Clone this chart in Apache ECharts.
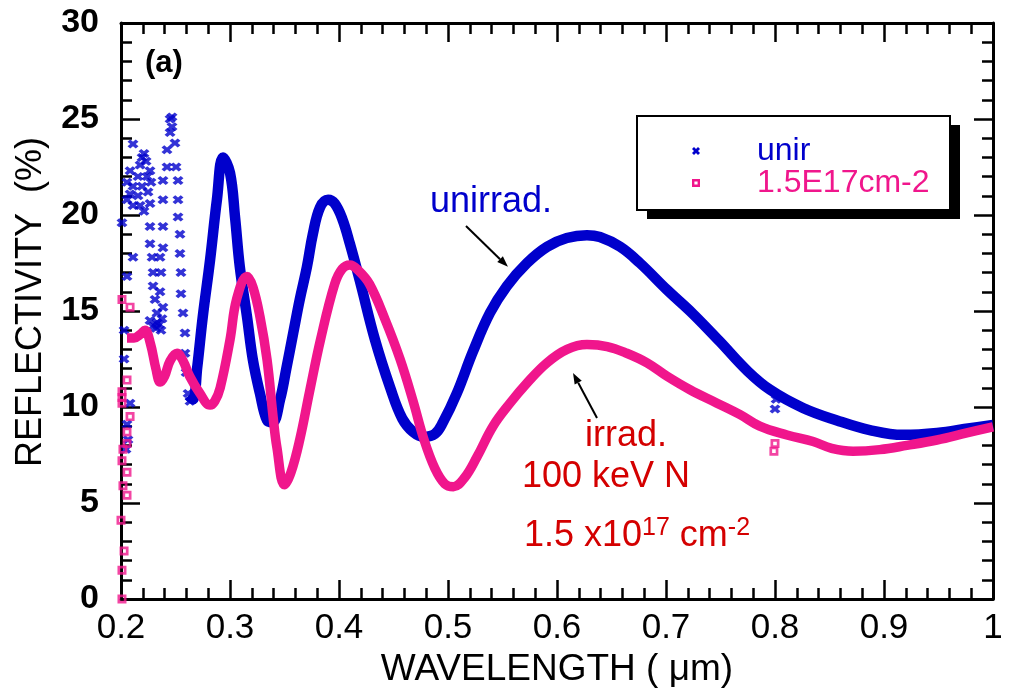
<!DOCTYPE html>
<html>
<head>
<meta charset="utf-8">
<script src="https://cdn.jsdelivr.net/npm/echarts@6/dist/echarts.min.js"></script>
<style>
  html, body { margin: 0; padding: 0; background: #fff; }
  #chart { width: 1009px; height: 699px; }
</style>
</head>
<body>
<div id="chart"></div>
<script>
// Axis ticks
const xTickValues = [0.2, 0.3, 0.4, 0.5, 0.6, 0.7, 0.8, 0.9, 1];
const yTickValues = [0, 5, 10, 15, 20, 25, 30];

// Unirradiated sample: sparse markers in the short-wavelength oscillation region [wavelength um, reflectivity %]
const unirScatterPts = [
  [0.211, 23.7], [0.2083, 22.3], [0.2055, 21.7], [0.2055, 20.8], [0.211, 21.5], [0.211, 20.5],
  [0.2083, 21.1], [0.2009, 19.6], [0.211, 17.8], [0.2055, 16.8], [0.2028, 14.0], [0.2028, 12.5],
  [0.2083, 10.2], [0.2055, 9.1], [0.2064, 8.3], [0.2046, 7.8],
  [0.2156, 21.0], [0.2156, 22.0], [0.2175, 22.6], [0.2193, 23.0], [0.2211, 23.2], [0.223, 22.8],
  [0.2239, 22.0], [0.2248, 21.2], [0.2193, 21.5], [0.2175, 20.5], [0.2211, 20.2], [0.2266, 20.6],
  [0.2266, 22.3], [0.2275, 21.7],
  [0.2266, 19.4], [0.2266, 18.5], [0.2285, 17.8], [0.2294, 17.0], [0.2294, 16.3], [0.2312, 15.6],
  [0.233, 14.9], [0.233, 14.4],
  [0.2266, 14.5], [0.2294, 14.2], [0.2321, 14.1], [0.2349, 14.3], [0.2376, 14.6], [0.2385, 15.2], [0.2367, 14.0],
  [0.2358, 16.0], [0.2367, 17.0], [0.2358, 17.8], [0.2385, 18.3], [0.2385, 19.4], [0.2385, 20.8],
  [0.2385, 21.8], [0.2422, 22.5], [0.2422, 23.4], [0.245, 24.3], [0.2468, 25.1], [0.2468, 24.6], [0.245, 25.0],
  [0.2495, 23.75], [0.2505, 22.5], [0.2523, 21.8], [0.2523, 20.8], [0.2523, 19.9], [0.2541, 19.0],
  [0.2541, 18.0], [0.255, 17.0], [0.255, 15.9], [0.2569, 14.9], [0.2587, 13.85], [0.2587, 12.8],
  [0.2597, 11.8], [0.2615, 10.7], [0.2633, 10.3]
];
const unirOutliers = [[0.8, 9.9], [0.801, 10.4]];

// Unirradiated sample: dense part of the spectrum
const unirCurve = [
  [0.262, 10.6], [0.266, 10.4], [0.270, 12.1], [0.275, 14.7], [0.2817, 17.65], [0.288, 20.8],
  [0.2936, 23.0], [0.300, 22.2], [0.3046, 19.9], [0.309, 17.3], [0.3156, 14.7], [0.321, 12.45],
  [0.3275, 10.7], [0.334, 9.3], [0.339, 9.2], [0.346, 10.4], [0.352, 12.1], [0.358, 13.85],
  [0.364, 15.6], [0.3706, 17.3], [0.376, 19.0], [0.3826, 20.4], [0.390, 20.8], [0.396, 20.6],
  [0.403, 19.8], [0.41, 18.5], [0.419, 16.6], [0.433, 13.5], [0.447, 11.0], [0.458, 9.4],
  [0.468, 8.7], [0.478, 8.45], [0.488, 8.6], [0.4954, 9.2], [0.508, 10.7], [0.523, 12.9],
  [0.5385, 14.9], [0.554, 16.3], [0.5725, 17.5], [0.591, 18.35], [0.609, 18.8], [0.6275, 18.95],
  [0.6394, 18.85], [0.6578, 18.35], [0.676, 17.5], [0.701, 16.1], [0.7248, 14.85], [0.7495, 13.4],
  [0.7743, 11.9], [0.7954, 10.9], [0.8257, 9.95], [0.8569, 9.3], [0.887, 8.8], [0.9174, 8.55],
  [0.9486, 8.65], [0.9789, 8.9], [1.0, 9.06]
];

// Irradiated sample (1.5E17 cm-2): markers at the short-wavelength edge
const irrEdgePts = [
  [0.2009, 15.6], [0.2083, 15.2], [0.2055, 11.4], [0.2009, 10.8], [0.2009, 10.5], [0.2009, 10.2],
  [0.2083, 9.5], [0.2055, 8.7], [0.2055, 8.1], [0.2018, 7.8], [0.2009, 7.2], [0.2055, 6.6],
  [0.2018, 5.9], [0.2055, 5.4], [0.2, 4.1], [0.2028, 2.5], [0.2009, 1.5], [0.2009, 0.0]
];
const irrOutliers = [[0.799, 7.7], [0.8, 8.1]];

// Irradiated sample: dense part of the spectrum
const irrCurve = [
  [0.2055, 13.6], [0.212, 13.6], [0.218, 13.8], [0.222, 14.0], [0.227, 13.3], [0.232, 12.0],
  [0.236, 11.3], [0.240, 11.6], [0.245, 12.4], [0.2514, 12.8], [0.257, 12.4], [0.263, 11.6],
  [0.2725, 10.7], [0.2817, 10.1], [0.286, 10.3], [0.291, 11.0], [0.300, 13.5], [0.306, 15.6],
  [0.3156, 16.8], [0.321, 16.25], [0.3275, 14.7], [0.334, 12.45], [0.3395, 9.5], [0.343, 7.9],
  [0.350, 5.95], [0.356, 6.6], [0.364, 8.3], [0.373, 10.8], [0.383, 13.5], [0.396, 16.4],
  [0.403, 17.2], [0.410, 17.4], [0.418, 17.1], [0.428, 16.4], [0.442, 14.6], [0.456, 12.5],
  [0.468, 10.3], [0.478, 8.3], [0.488, 6.8], [0.497, 6.0], [0.505, 5.85], [0.515, 6.3],
  [0.5266, 7.4], [0.5413, 9.0], [0.5569, 10.2], [0.5725, 11.25], [0.5908, 12.3], [0.6092, 13.0],
  [0.6275, 13.25], [0.646, 13.15], [0.664, 12.8], [0.6826, 12.3], [0.701, 11.6], [0.722, 10.9],
  [0.7468, 10.2], [0.768, 9.6], [0.786, 9.0], [0.811, 8.54], [0.835, 8.2], [0.852, 7.85],
  [0.8716, 7.7], [0.896, 7.78], [0.921, 8.0], [0.9486, 8.28], [0.976, 8.65], [1.0, 8.96]
];

const FONT = '"Liberation Sans", Arial, Helvetica, sans-serif';
const BLUE = '#0000cc';
const PINK = '#f0168c';
const RED = '#d40000';
const CROSS = 'path://M0,2.5L2.5,0L5,2.5L7.5,0L10,2.5L7.5,5L10,7.5L7.5,10L5,7.5L2.5,10L0,7.5L2.5,5Z';
const SQUARE = 'path://M0,0H10V10H0ZM3,3V7H7V3Z';

const tickStyle = { color: '#000', width: 2.5 };

function makeXAxis(position, labels) {
  return {
    type: 'value', position: position,
    min: xTickValues[0], max: xTickValues[xTickValues.length - 1], interval: 0.1,
    axisLine: { show: true, onZero: false, lineStyle: { color: '#000', width: 3 } },
    axisTick: { show: true, inside: true, length: 19, lineStyle: tickStyle },
    minorTick: { show: true, splitNumber: 5, length: 11, lineStyle: tickStyle },
    splitLine: { show: false }, minorSplitLine: { show: false },
    axisLabel: labels ? {
      show: true, margin: 12, color: '#000', fontSize: 35, fontFamily: FONT,
      formatter: v => String(+v.toFixed(1))
    } : { show: false }
  };
}
function makeYAxis(position, labels) {
  return {
    type: 'value', position: position,
    min: yTickValues[0], max: yTickValues[yTickValues.length - 1], interval: 5,
    axisLine: { show: true, onZero: false, lineStyle: { color: '#000', width: 3 } },
    axisTick: { show: true, inside: true, length: 19, lineStyle: tickStyle },
    minorTick: { show: true, splitNumber: 5, length: 11, lineStyle: tickStyle },
    splitLine: { show: false }, minorSplitLine: { show: false },
    axisLabel: labels ? {
      show: true, margin: 22, color: '#000', fontSize: 34, fontWeight: 'bold', fontFamily: FONT
    } : { show: false }
  };
}

const xMain = makeXAxis('bottom', true);
xMain.name = 'WAVELENGTH ( \u03bcm)';
xMain.nameLocation = 'middle';
xMain.nameGap = 52;
xMain.nameTextStyle = { fontSize: 37, color: '#000', fontFamily: FONT };

const yMain = makeYAxis('left', true);
yMain.name = 'REFLECTIVITY  (%)';
yMain.nameLocation = 'middle';
yMain.nameGap = 72;
yMain.nameTextStyle = { fontSize: 36, color: '#000', fontFamily: FONT, padding: [0, 0, 0, 18] };

const chart = echarts.init(document.getElementById('chart'), null, { renderer: 'canvas' });

chart.setOption({
  animation: false,
  backgroundColor: '#fff',
  grid: { left: 121, right: 16, top: 23, bottom: 100, containLabel: false },
  xAxis: [xMain, makeXAxis('top', false)],
  yAxis: [yMain, makeYAxis('right', false)],
  legend: {
    orient: 'vertical', left: 692, top: 135, padding: 0, itemGap: 0, z: 10,
    itemWidth: 20, itemHeight: 8, selectedMode: false,
    textStyle: { fontSize: 32, fontFamily: FONT, lineHeight: 30, padding: [0, 0, 0, 46] },
    data: [
      { name: 'unir', icon: CROSS, textStyle: { color: BLUE } },
      { name: '1.5E17cm-2', icon: SQUARE, textStyle: { color: PINK } }
    ]
  },
  series: [
    {
      name: 'unir', type: 'line', data: unirCurve, smooth: 0.4, showSymbol: false,
      lineStyle: { color: BLUE, width: 10.5 }, itemStyle: { color: BLUE }, z: 2
    },
    {
      name: 'unir', type: 'scatter', data: unirScatterPts.concat(unirOutliers),
      symbol: CROSS, symbolSize: [11, 9], itemStyle: { color: BLUE }, z: 2
    },
    {
      name: '1.5E17cm-2', type: 'line', data: irrCurve, smooth: 0.4, showSymbol: false,
      lineStyle: { color: PINK, width: 9.5 }, itemStyle: { color: PINK }, z: 3
    },
    {
      name: '1.5E17cm-2', type: 'scatter', data: irrEdgePts.concat(irrOutliers),
      symbol: SQUARE, symbolSize: 9, itemStyle: { color: PINK }, z: 3
    }
  ]
});

// Annotations placed in data coordinates (text anchored at its left end / baseline)
const toPx = p => chart.convertToPixel({ xAxisIndex: 0, yAxisIndex: 0 }, p);
const textAt = (p, text, size, color, weight, extra) => {
  const q = toPx(p);
  return {
    type: 'text', z: 20, x: q[0], y: q[1] - 0.31 * size,
    style: Object.assign({ text: text, fill: color, fontSize: size, fontFamily: FONT,
      fontWeight: weight, align: 'left', verticalAlign: 'middle' }, extra || {})
  };
};
const arrow = (from, to) => {
  const a = toPx(from), b = toPx(to);
  const dx = b[0] - a[0], dy = b[1] - a[1], L = Math.hypot(dx, dy);
  const ux = dx / L, uy = dy / L, hl = 11, hw = 4;
  const bx = b[0] - ux * hl, by = b[1] - uy * hl;
  return [
    { type: 'line', z: 20, shape: { x1: a[0], y1: a[1], x2: bx, y2: by },
      style: { stroke: '#000', lineWidth: 2 } },
    { type: 'polygon', z: 20,
      shape: { points: [[b[0], b[1]], [bx - uy * hw, by + ux * hw], [bx + uy * hw, by - ux * hw]] },
      style: { fill: '#000' } }
  ];
};

const shade = (c) => ({ shadowColor: c, shadowOffsetX: 1, shadowOffsetY: 1, shadowBlur: 1 });

const graphics = [
  // legend frame with a hard drop shadow
  { type: 'rect', z: 5, shape: { x: 647, y: 125, width: 313, height: 94 }, style: { fill: '#000' } },
  { type: 'rect', z: 6, shape: { x: 637, y: 116, width: 313, height: 94 },
    style: { fill: '#fff', stroke: '#000', lineWidth: 2 } },
  textAt([0.222, 27.4], '(a)', 31, '#000', 'bold'),
  textAt([0.4835, 20.1], 'unirrad.', 36, BLUE, 'normal', shade('#000066')),
  textAt([0.6257, 7.92], 'irrad.', 36, RED, 'normal', shade('#600000')),
  textAt([0.5679, 5.78], '100 keV N', 36, RED, 'normal', shade('#600000')),
  (function () {
    const q = toPx([0.5697, 2.7]);
    return {
      type: 'text', z: 20, x: q[0], y: q[1] - 0.31 * 36,
      style: {
        text: '{n|1.5 x10}{s|17}{n| cm}{s|-2}', align: 'left', verticalAlign: 'middle',
        fill: RED, shadowColor: '#600000', shadowOffsetX: 1, shadowOffsetY: 1, shadowBlur: 1,
        rich: {
          n: { fontSize: 36, fontFamily: FONT, fill: RED, lineHeight: 40 },
          s: { fontSize: 25, fontFamily: FONT, fill: RED, lineHeight: 24, verticalAlign: 'top' }
        }
      }
    };
  })()
].concat(arrow([0.5165, 19.43], [0.555, 17.3]), arrow([0.6367, 9.43], [0.6147, 11.77]));

chart.setOption({ graphic: graphics });
</script>
</body>
</html>
